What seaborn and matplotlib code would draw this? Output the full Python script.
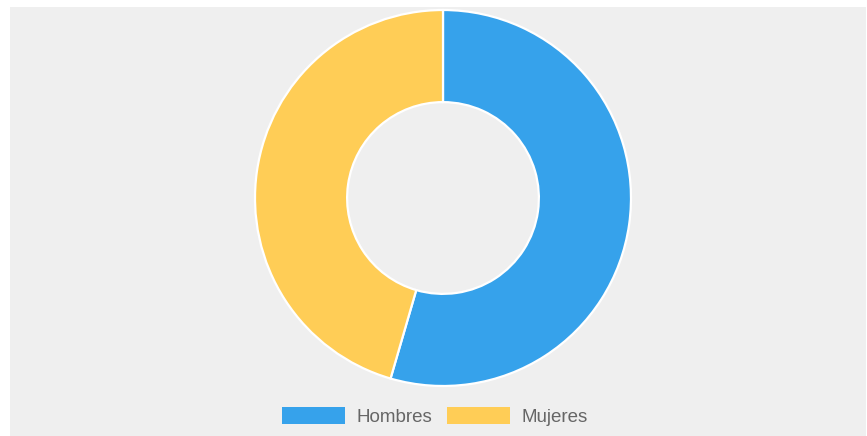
import matplotlib
matplotlib.use("Agg")
import matplotlib.pyplot as plt
from matplotlib.patches import Patch, Rectangle
import seaborn as sns

# Distribution by sex
labels = ["Hombres", "Mujeres"]
values = [54.5, 45.5]
colors = ["#36A2EB", "#FFCD56"]

sns.set_style("white")
plt.rcParams["font.family"] = ["Liberation Sans", "DejaVu Sans"]

W, H = 867, 436
fig = plt.figure(figsize=(W / 100, H / 100), dpi=100, facecolor="white")

# light grey panel behind the chart
fig.patches.append(Rectangle((10 / W, -0.01), (W - 11) / W, (H - 7) / H + 0.01,
                             transform=fig.transFigure, facecolor="#efefef",
                             edgecolor="none", zorder=-10))

cx, cy, r = 443, 198, 188
ax = fig.add_axes([(cx - r) / W, (H - cy - r) / H, 2 * r / W, 2 * r / H])
ax.set_zorder(5)
ax.set_facecolor("none")
ax.pie(values, colors=colors, startangle=90, counterclock=False, radius=1,
       wedgeprops=dict(width=0.49, edgecolor="white", linewidth=1.6))
ax.set_xlim(-1.0, 1.0)
ax.set_ylim(-1.0, 1.0)
ax.set_aspect("equal")
ax.axis("off")

handles = [Patch(facecolor=c, edgecolor="none") for c in colors]
fig.legend(handles, labels, loc="center", ncol=2,
           bbox_to_anchor=(435 / W, 1 - 416.5 / H),
           frameon=False, fontsize=13.5, labelcolor="#666666",
           handlelength=3.37, handleheight=0.96, handletextpad=0.59,
           columnspacing=0.8, borderpad=0, borderaxespad=0)

fig.savefig("out.png", dpi=100, facecolor="white")
